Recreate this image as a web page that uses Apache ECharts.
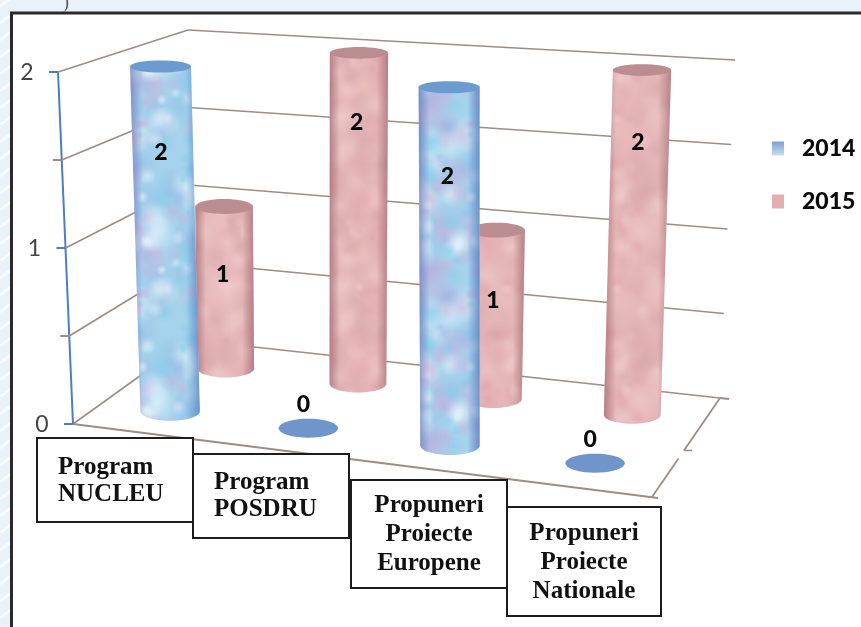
<!DOCTYPE html>
<html><head><meta charset="utf-8">
<style>html,body{margin:0;padding:0;background:#e9f1f9}#c{width:861px;height:627px}</style>
<script src="https://cdn.jsdelivr.net/npm/echarts@6/dist/echarts.min.js"></script>
</head><body><div id="c"></div>
<script>
// ---- data ----
const categories = ['Program\nNUCLEU', 'Program\nPOSDRU', 'Propuneri\nProiecte\nEuropene', 'Propuneri\nProiecte\nNationale'];
const values2014 = [2, 0, 2, 0];
const values2015 = [1, 2, 1, 2];
const yTicks = [0, 0.5, 1, 1.5, 2];
const yTickLabels = ['0', '', '1', '', '2'];

// ---- 3D box corners on the page (layout of the perspective view) ----
const floorCorners = {A:[73,424], B:[652,497], C:[720,398], D:[190,340]};
const roofCorners  = {A:[58,72],  B:[655,118], C:[735,60],  D:[188,30]};
const depth2014 = 0.25, depth2015 = 0.75, halfBar = 0.052, foreshorten = 1.05;

function lerp(a,b,t){return [a[0]+(b[0]-a[0])*t, a[1]+(b[1]-a[1])*t];}
function project(u,w,v){
  const f=lerp(lerp(floorCorners.A,floorCorners.B,u),lerp(floorCorners.D,floorCorners.C,u),w);
  const r=lerp(lerp(roofCorners.A,roofCorners.B,u),lerp(roofCorners.D,roofCorners.C,u),w);
  return lerp(f,r,v);
}
const warp=u=>u/(u+foreshorten*(1-u));
// Reads the axis scales of the hidden cartesian grid and converts them to unit cube coordinates
function unit(api,params,cat,val){
  const p=api.coord([cat,val]), s=params.coordSys;
  return [(p[0]-s.x)/s.width, 1-(p[1]-s.y)/s.height];
}

// ---- surface textures (deterministic) ----
function makeTexture(base,blobs,seed){
  const c=document.createElement('canvas');c.width=110;c.height=170;
  const g=c.getContext('2d');g.fillStyle=base;g.fillRect(0,0,110,170);
  let s=seed;const next=()=>{s=(s*16807)%2147483647;return s/2147483647;};
  for(let i=0;i<130;i++){
    const x=next()*110,y=next()*170,r=5+next()*15,col=blobs[Math.floor(next()*blobs.length)];
    for(const dx of [-110,0,110])for(const dy of [-170,0,170]){
      const rg=g.createRadialGradient(x+dx,y+dy,0,x+dx,y+dy,r);
      rg.addColorStop(0,col);rg.addColorStop(1,col.replace(/[\d.]+\)$/,'0)'));
      g.fillStyle=rg;g.fillRect(x+dx-r,y+dy-r,2*r,2*r);
    }
  }
  return {image:c,repeat:'repeat'};
}
const blueTexture=makeTexture('#a6d3ec',['rgba(228,245,252,0.7)','rgba(135,205,235,0.6)','rgba(200,178,220,0.55)','rgba(150,175,225,0.35)'],12345);
const pinkTexture=makeTexture('#e5b6b8',['rgba(242,208,208,0.5)','rgba(224,165,172,0.5)','rgba(236,192,188,0.45)','rgba(212,162,164,0.4)'],6789);
const edge=(col,col2)=>({type:'linear',x:0,y:0,x2:1,y2:0,colorStops:[
  {offset:0,color:col},{offset:0.18,color:col.replace(/[\d.]+\)$/,'0)')},
  {offset:0.8,color:col2.replace(/[\d.]+\)$/,'0)')},{offset:1,color:col2}]});
const styles={
  '2014':{tex:blueTexture,edge:edge('rgba(110,115,185,0.7)','rgba(85,130,195,0.8)'),cap:'#6c9ccf',disc:'#6f95cb'},
  '2015':{tex:pinkTexture,edge:edge('rgba(160,105,110,0.7)','rgba(165,110,115,0.75)'),cap:'#bb8c90',disc:'#bb8c90'}
};

function ellipse(c,rx,ry,from,to,n){
  const pts=[];for(let i=0;i<=n;i++){const a=from+(to-from)*i/n;pts.push([c[0]+rx*Math.cos(a),c[1]+ry*Math.sin(a)]);}
  return pts;
}
function cylinderItem(year,depth){
  return function(params,api){
    const cat=api.value(0),val=api.value(1);
    const un=unit(api,params,cat,val), u=warp(un[0]), v=un[1];
    const st=styles[year];
    const base=project(u,depth,0), top=project(u,depth,v);
    const w0=Math.hypot(...[0,1].map(i=>project(u+halfBar,depth,0)[i]-project(u-halfBar,depth,0)[i]))/2;
    const w1=Math.hypot(...[0,1].map(i=>project(u+halfBar,depth,v)[i]-project(u-halfBar,depth,v)[i]))/2;
    const ry0=w0*0.32, ry1=w1*(0.32-0.12*v);
    const kids=[];
    if(val>0){
      const outline=[[top[0]-w1,top[1]]]
        .concat(ellipse(base,w0,ry0,Math.PI,0,24))
        .concat([[top[0]+w1,top[1]]]);
      kids.push({type:'polygon',shape:{points:outline},style:{fill:st.tex,stroke:null}});
      kids.push({type:'polygon',shape:{points:outline},style:{fill:st.edge,stroke:null}});
      kids.push({type:'polygon',shape:{points:ellipse(top,w1,ry1,0,Math.PI*2,36)},style:{fill:st.cap,stroke:null}});
      const lab=project(u,depth,(val-(depth===depth2014?0.5:0.42))/2);
      kids.push({type:'text',style:{text:String(val),x:lab[0]-2,y:lab[1],align:'center',verticalAlign:'middle',
        font:'900 23px Lato',fill:'#0a0a0a'},z2:10});
    } else {
      kids.push({type:'polygon',shape:{points:ellipse(base,w0,ry0,0,Math.PI*2,36)},style:{fill:st.disc,stroke:null}});
      kids.push({type:'text',style:{text:String(val),x:base[0]-5,y:base[1]-24,align:'center',verticalAlign:'middle',
        font:'900 23px Lato',fill:'#0a0a0a'},z2:10});
    }
    return {type:'group',children:kids};
  };
}
function line(a,b,color,width){
  return {type:'line',shape:{x1:a[0],y1:a[1],x2:b[0],y2:b[1]},style:{stroke:color,lineWidth:width}};
}
const wallColor='#9d8d84', axisColor='#4a7fc4';
function frameItem(params,api){
  const tick=api.value(1), i=params.dataIndex;
  const v=unit(api,params,0,tick)[1];
  const A=project(0,0,v),D=project(0,1,v),C=project(1,1,v);
  const kids=[line(A,D,wallColor,1.6),line(D,C,wallColor,1.6)];
  kids.push(line([A[0]-9,A[1]],A,i%2?wallColor:axisColor,2));
  if(yTickLabels[i]) kids.push({type:'text',style:{text:yTickLabels[i],x:A[0]-31,y:A[1]+1,align:'center',verticalAlign:'middle',
    font:'23px Lato',fill:'#444'}});
  if(i===0){
    const B=project(1,0,0);
    kids.push(line(A,[B[0]+6,B[1]+1],wallColor,1.8));
    kids.push(line(B,project(1,0.39,0),wallColor,1.8));
    kids.push(line(project(1,0.47,0),C,wallColor,1.8));
    kids.push(line(C,[C[0]+9,C[1]+1],wallColor,1.8));
    const m=project(1,0.47,0);kids.push(line(m,[m[0]+8,m[1]],wallColor,1.6));
    kids.push(line(A,project(0,0,1),axisColor,2));
  }
  return {type:'group',children:kids};
}

const boxLayout=[
  {x:37,y:438,w:156,h:84,align:'left',tx:58,ty:481},
  {x:193,y:454,w:156,h:84,align:'left',tx:214,ty:496},
  {x:351,y:480,w:156,h:108,align:'center',tx:429,ty:535},
  {x:507,y:507,w:154,h:109,align:'center',tx:584,ty:563}
];
const graphics=[];
// faint rays of the page background, visible in the left margin
for(let y=6;y<660;y+=17){
  graphics.push({type:'line',z:-6,silent:true,shape:{x1:0,y1:y,x2:12,y2:y-9},style:{stroke:'rgba(255,255,255,0.7)',lineWidth:3}});
}
graphics.push(
  {type:'rect',z:-5,silent:true,shape:{x:11.5,y:13,width:900,height:700},style:{fill:'#ffffff',stroke:'#2a2a2a',lineWidth:3}},
  {type:'text',z:-4,silent:true,style:{text:')',x:66,y:-6,align:'center',font:'18px "Liberation Serif"',fill:'#555'}}
);
categories.forEach((c,i)=>{
  const b=boxLayout[i];
  graphics.push({type:'rect',z:50,silent:true,shape:{x:b.x,y:b.y,width:b.w,height:b.h},style:{fill:'#ffffff',stroke:'#1c1c1c',lineWidth:2}});
  graphics.push({type:'text',z:51,silent:true,style:{text:c,x:b.tx,y:b.ty,align:b.align,verticalAlign:'middle',
    font:'bold 25px "Liberation Serif"',lineHeight:i<2?27:29,fill:'#111'}});
});

const toPoints=arr=>arr.map((v,i)=>[i,v]);
const chart=echarts.init(document.getElementById('c'),null,{renderer:'canvas'});
chart.setOption({
  animation:false,
  backgroundColor:'#e9f1f9',
  grid:{left:100,right:100,top:100,bottom:100},
  xAxis:{type:'category',data:categories,show:false},
  yAxis:{type:'value',min:0,max:2,interval:0.5,show:false},
  graphic:{elements:graphics},
  legend:{orient:'vertical',left:767,top:132,itemWidth:12,itemHeight:14,itemGap:30,icon:'rect',
    data:['2014','2015'],selectedMode:false,
    textStyle:{fontFamily:'Lato',fontWeight:900,fontSize:23,color:'#0a0a0a',padding:[0,0,0,13]}},
  series:[
    {type:'custom',name:'frame',z:1,silent:true,clip:false,renderItem:frameItem,encode:{x:0,y:1},data:yTicks.map(t=>[0,t])},
    {type:'custom',name:'2015',z:2,silent:true,clip:false,renderItem:cylinderItem('2015',depth2015),encode:{x:0,y:1},data:toPoints(values2015),itemStyle:{color:'#e3aeb0'}},
    {type:'custom',name:'2014',z:3,silent:true,clip:false,renderItem:cylinderItem('2014',depth2014),encode:{x:0,y:1},data:toPoints(values2014),
     itemStyle:{color:{type:'linear',x:0,y:0,x2:0,y2:1,colorStops:[{offset:0,color:'#7f9fd0'},{offset:1,color:'#c8ddf0'}]}}}
  ]
});
</script></body></html>
